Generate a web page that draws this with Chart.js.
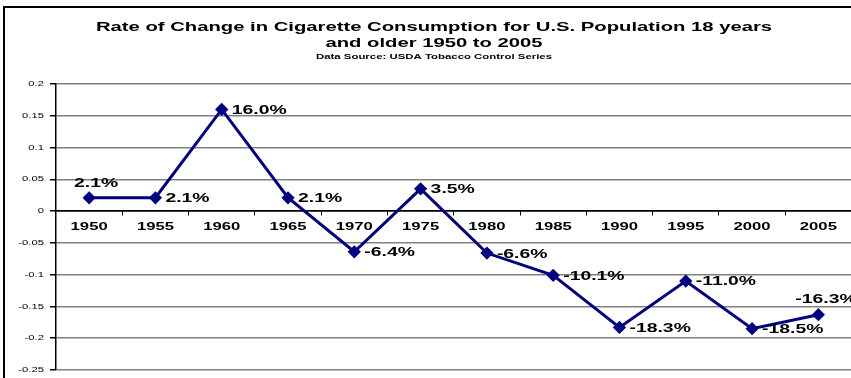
<!DOCTYPE html>
<html>
<head>
<meta charset="utf-8">
<script src="https://cdn.jsdelivr.net/npm/chart.js@4/dist/chart.umd.min.js"></script>
<style>
html,body{margin:0;padding:0;background:#fff;overflow:hidden;}
#wrap{width:851px;height:378px;position:relative;overflow:hidden;}
#c{position:absolute;left:0;top:0;}
</style>
</head>
<body>
<div id="wrap"><canvas id="c" width="859" height="378"></canvas></div>
<script>
const years = ['1950','1955','1960','1965','1970','1975','1980','1985','1990','1995','2000','2005'];
const rateOfChange = [0.021, 0.021, 0.160, 0.021, -0.064, 0.035, -0.066, -0.101, -0.183, -0.110, -0.185, -0.163];
const pointLabels = ['2.1%','2.1%','16.0%','2.1%','-6.4%','3.5%','-6.6%','-10.1%','-18.3%','-11.0%','-18.5%','-16.3%'];
const labelPlacement = ['above','right','right','right','right','right','right','right','right','right','right','aboveLeft'];
const titleLines = ['Rate of Change in Cigarette Consumption for U.S. Population 18 years','and older 1950 to 2005'];
const sourceLine = 'Data Source: USDA Tobacco Control Series';

const FONT = "'Liberation Sans', Arial, sans-serif";

// text drawn with the horizontal stretch seen in the reference picture
function sText(ctx, txt, x, y, align, sx) {
  ctx.save();
  ctx.translate(x, y);
  ctx.scale(sx, 1);
  ctx.textAlign = align;
  ctx.fillText(txt, 0, 0);
  ctx.restore();
}

const decor = {
  id: 'decor',
  beforeDraw(chart) {
    const ctx = chart.ctx;
    ctx.save();
    ctx.fillStyle = '#fff';
    ctx.fillRect(0, 0, chart.width, chart.height);
    ctx.strokeStyle = '#000';
    ctx.lineWidth = 2;
    ctx.beginPath();
    ctx.moveTo(4, chart.height);
    ctx.lineTo(4, 7);
    ctx.lineTo(chart.width, 7);
    ctx.stroke();
    ctx.fillStyle = '#000';
    ctx.textBaseline = 'alphabetic';
    ctx.font = 'bold 13.5px ' + FONT;
    sText(ctx, titleLines[0], 434, 31, 'center', 1.5);
    sText(ctx, titleLines[1], 434, 47, 'center', 1.5);
    ctx.font = 'bold 7.5px ' + FONT;
    sText(ctx, sourceLine, 434, 59, 'center', 1.52);
    ctx.restore();
  },
  afterDraw(chart) {
    const ctx = chart.ctx;
    const xs = chart.scales.x, ys = chart.scales.y;
    ctx.save();
    ctx.fillStyle = '#000';
    ctx.textBaseline = 'middle';
    // y tick labels
    ctx.font = '7.5px ' + FONT;
    ys.ticks.forEach((t) => {
      const y = ys.getPixelForValue(t.value);
      sText(ctx, String(Number(t.value.toFixed(2))), 44, y, 'right', 1.5);
    });
    // x category labels
    ctx.font = 'bold 11.5px ' + FONT;
    const y0 = ys.getPixelForValue(0);
    years.forEach((lab, i) => {
      sText(ctx, lab, xs.getPixelForTick(i), y0 + 16, 'center', 1.45);
    });
    // data labels
    const meta = chart.getDatasetMeta(0);
    ctx.font = 'bold 12.5px ' + FONT;
    meta.data.forEach((pt, i) => {
      const txt = pointLabels[i];
      if (labelPlacement[i] === 'above') {
        sText(ctx, txt, pt.x + 7, pt.y - 14, 'center', 1.55);
      } else if (labelPlacement[i] === 'aboveLeft') {
        sText(ctx, txt, pt.x - 23, pt.y - 15, 'left', 1.55);
      } else {
        sText(ctx, txt, pt.x + 10, pt.y + 1, 'left', 1.55);
      }
    });
    ctx.restore();
  }
};

new Chart(document.getElementById('c'), {
  type: 'line',
  data: {
    labels: years,
    datasets: [{
      data: rateOfChange,
      borderColor: '#000080',
      backgroundColor: '#000080',
      borderWidth: 3,
      pointStyle: 'rectRot',
      pointRadius: 4.5,
      pointHoverRadius: 4.5,
      tension: 0,
      fill: false
    }]
  },
  options: {
    responsive: false,
    animation: false,
    devicePixelRatio: 1,
    layout: { padding: { left: 4, right: 0, top: 84, bottom: 8 } },
    plugins: { legend: { display: false }, tooltip: { enabled: false }, title: { display: false } },
    scales: {
      x: {
        type: 'category',
        position: { y: 0 },
        offset: true,
        grid: {
          display: true,
          drawOnChartArea: false,
          drawTicks: true,
          tickLength: 4,
          offset: true,
          color: '#000',
          tickColor: '#000'
        },
        border: { display: true, color: '#000', width: 1.5 },
        ticks: { display: false, autoSkip: false, maxRotation: 0 }
      },
      y: {
        min: -0.25,
        max: 0.2,
        afterFit(scale) { scale.width = 52; },
        grid: {
          color: (c) => (c.tick && Math.abs(c.tick.value) < 1e-9) ? '#000' : '#808080',
          lineWidth: 1.5,
          tickColor: '#000',
          tickLength: 6
        },
        border: { display: true, color: '#000', width: 1.5 },
        ticks: { display: false, stepSize: 0.05 }
      }
    }
  },
  plugins: [decor]
});
</script>
</body>
</html>
